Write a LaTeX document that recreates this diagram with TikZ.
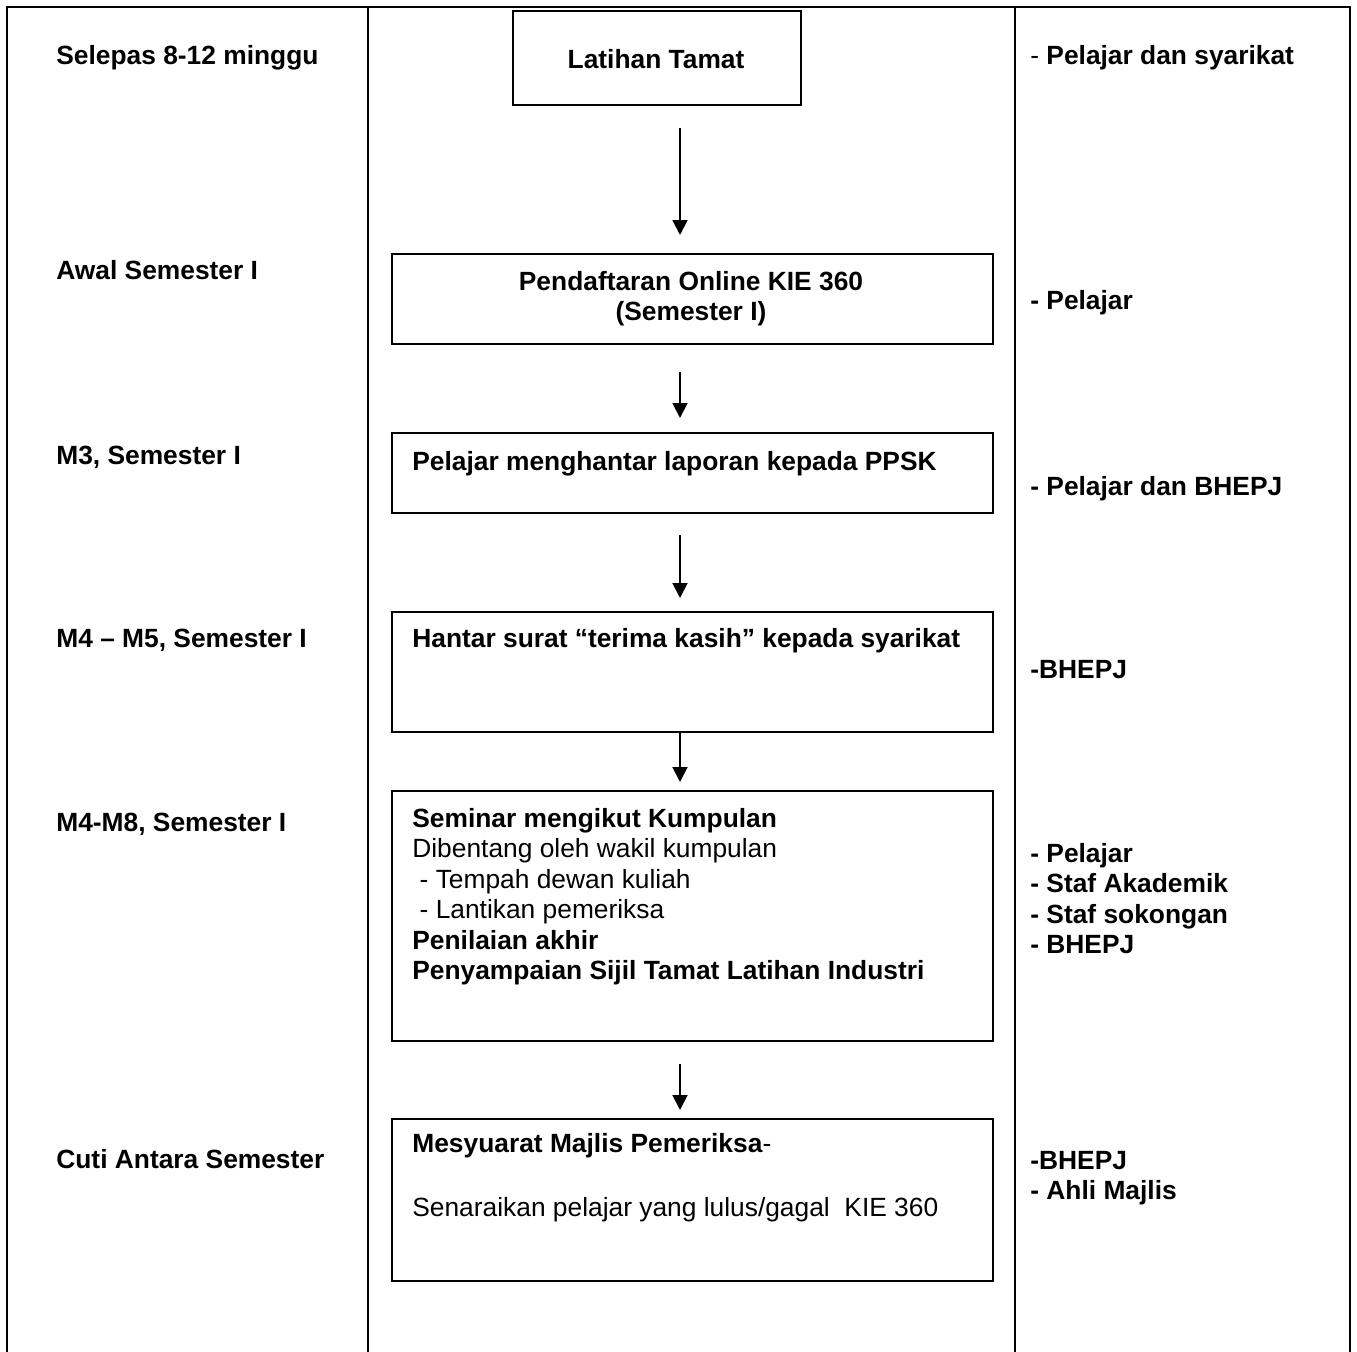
\documentclass[tikz,border=0pt]{standalone}
\usepackage{fontspec}
\setmainfont{Liberation Sans}
\usetikzlibrary{arrows.meta}

\begin{document}
\begin{tikzpicture}[x=0.02cm, y=-0.02cm,
    >={Triangle[width=8.5pt,length=8.5pt]},
    every node/.style = {font=\fontsize{15pt}{17.3pt}\selectfont},
    stepbox/.style = {rectangle, draw=black, line width=1.1pt,
                      anchor=north west, inner sep=0pt, minimum width=12.02cm},
    lbl/.style = {anchor=base west, inner sep=0pt, align=left, font=\fontsize{15pt}{17.3pt}\selectfont\bfseries},
    boxtext/.style = {anchor=base west, inner sep=0pt, align=left},
    flow/.style = {->, line width=1.1pt}]
  \useasboundingbox (0,0) rectangle (1357,1352);

  % table frame
  \draw[line width=1.2pt] (7,1352) -- (7,7) -- (1350,7) -- (1350,1352);
  \draw[line width=1.2pt] (368,7) -- (368,1352);
  \draw[line width=1.2pt] (1015,7) -- (1015,1352);

  % time column
  \node (t1) [lbl] at (56,64.5) {Selepas 8-12 minggu};
  \node (t2) [lbl] at (56,279.5) {Awal Semester I};
  \node (t3) [lbl] at (56,464.5) {M3, Semester I};
  \node (t4) [lbl] at (56,647.5) {M4 – M5, Semester I};
  \node (t5) [lbl] at (56,831.5) {M4-M8, Semester I};
  \node (t6) [lbl] at (56,1168.5) {Cuti Antara Semester};

  % flow boxes
  \node (tamat) [stepbox, minimum width=5.76cm, minimum height=1.88cm] at (512,10) {};
  \node (daftar) [stepbox, minimum height=1.8cm] at (391,253) {};
  \node (laporan) [stepbox, minimum height=1.6cm] at (391,432) {};
  \node (surat) [stepbox, minimum height=2.4cm] at (391,611) {};
  \node (seminar) [stepbox, minimum height=5cm] at (391,790) {};
  \node (mesyuarat) [stepbox, minimum height=3.24cm] at (391,1118) {};

  % box texts (multi-line ones sit on their last baseline)
  \node (tamattxt) [anchor=base, inner sep=0pt, font=\fontsize{15pt}{17.3pt}\selectfont\bfseries] at (656,68.5) {Latihan Tamat};
  \node (daftartxt) [anchor=base, inner sep=0pt, align=center, font=\fontsize{15pt}{17.3pt}\selectfont\bfseries] at (691,320.5)
    {Pendaftaran Online KIE 360\\(Semester I)};
  \node (laporantxt) [lbl] at (412,470.5) {Pelajar menghantar laporan kepada PPSK};
  \node (surattxt) [lbl] at (412,647.5) {Hantar surat “terima kasih” kepada syarikat};
  \node (seminartxt) [boxtext] at (412,979.5)
    {\textbf{Seminar mengikut Kumpulan}\\
     Dibentang oleh wakil kumpulan\\
     \ - Tempah dewan kuliah\\
     \ - Lantikan pemeriksa\\
     \textbf{Penilaian akhir}\\
     \textbf{Penyampaian Sijil Tamat Latihan Industri}};
  \node (mesyuarattxt) [boxtext] at (412,1216.5)
    {\textbf{Mesyuarat Majlis Pemeriksa}-\\[19pt]
     Senaraikan pelajar yang lulus/gagal\ \ KIE 360};

  % who column
  \node (w1) [lbl] at (1030,64.5) {\mdseries -\bfseries{} Pelajar dan syarikat};
  \node (w2) [lbl] at (1030,309.5) {- Pelajar};
  \node (w3) [lbl] at (1030,495.5) {- Pelajar dan BHEPJ};
  \node (w4) [lbl] at (1030,678.5) {-BHEPJ};
  \node (w5) [lbl] at (1030,953.5) {- Pelajar\\- Staf Akademik\\- Staf sokongan\\- BHEPJ};
  \node (w6) [lbl] at (1030,1199.5) {-BHEPJ\\- Ahli Majlis};

  % arrow ends
  \coordinate (a1s) at (680,128);  \coordinate (a1e) at (680,235);
  \coordinate (a2s) at (680,372);  \coordinate (a2e) at (680,418);
  \coordinate (a3s) at (680,535);  \coordinate (a3e) at (680,598);
  \coordinate (a4s) at (680,731);  \coordinate (a4e) at (680,782);
  \coordinate (a5s) at (680,1064); \coordinate (a5e) at (680,1110);

  \path[flow]
    (a1s) edge (a1e)
    (a2s) edge (a2e)
    (a3s) edge (a3e)
    (a4s) edge (a4e)
    (a5s) edge (a5e);
\end{tikzpicture}
\end{document}
